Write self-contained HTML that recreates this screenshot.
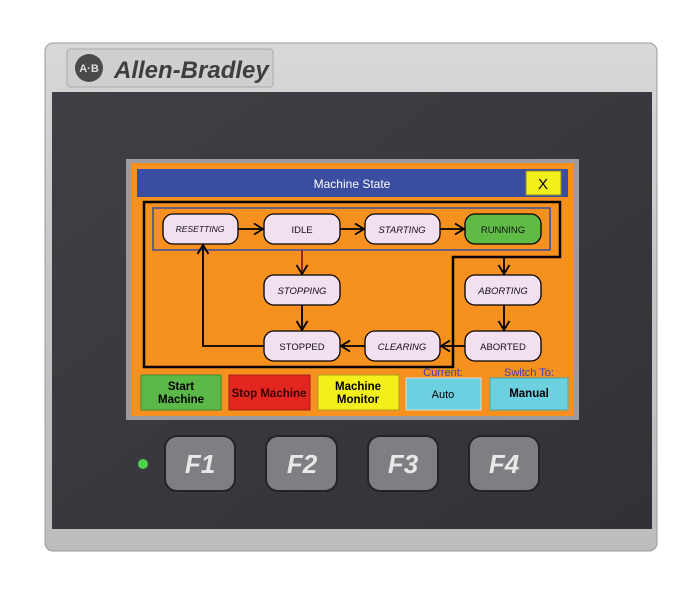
<!DOCTYPE html>
<html><head><meta charset="utf-8"><style>
html,body{margin:0;padding:0;background:#fff;width:700px;height:595px;overflow:hidden}
svg{display:block}
text{font-family:"Liberation Sans",sans-serif}
</style></head><body>
<svg width="700" height="595" viewBox="0 0 700 595" xmlns="http://www.w3.org/2000/svg">
<defs>
<linearGradient id="bz" x1="0" y1="0" x2="0" y2="1"><stop offset="0" stop-color="#d8d8d8"/><stop offset="0.5" stop-color="#c4c4c4"/><stop offset="1" stop-color="#bdbdbd"/></linearGradient>
<linearGradient id="dk" x1="0" y1="0" x2="1" y2="1"><stop offset="0" stop-color="#3e4045"/><stop offset="1" stop-color="#303237"/></linearGradient>
<marker id="ar" markerWidth="14" markerHeight="14" refX="11" refY="7" orient="auto" markerUnits="userSpaceOnUse"><path d="M2,1.5 L11,7 L2,12.5" fill="none" stroke="#000" stroke-width="1.8"/></marker>
</defs>
<rect x="45" y="43" width="612" height="508" rx="8" fill="url(#bz)" stroke="#9a9a9a"/>
<rect x="67" y="49" width="206" height="38" rx="3" fill="#cfcfcf" stroke="#aaa"/>
<circle cx="89" cy="68" r="14" fill="#4a4a4a"/>
<text x="89" y="72" font-size="11" font-weight="bold" fill="#ddd" text-anchor="middle">A·B</text>
<text x="114" y="78" font-size="24" font-weight="bold" font-style="italic" fill="#3e3e3e">Allen-Bradley</text>
<rect x="52" y="92" width="600" height="437" fill="url(#dk)"/>
<rect x="126" y="159" width="453" height="261" fill="#9a9c9f"/>
<rect x="131" y="163" width="443" height="253" fill="#f6901e"/>
<rect x="137" y="169" width="431" height="28" fill="#3a4da0"/>
<text x="352" y="188" font-size="12" fill="#fff" text-anchor="middle">Machine State</text>
<rect x="526" y="171" width="35" height="24" fill="#f3ef1a" stroke="#8c8a20"/>
<text x="543" y="189" font-size="15" fill="#000" text-anchor="middle">X</text>
<path d="M144,202 H560 V257 H453 V367 H144 Z" fill="none" stroke="#000" stroke-width="2.5"/>
<rect x="153" y="208" width="397" height="42" fill="none" stroke="#3a4da0" stroke-width="1.5"/>
<g stroke="#000" stroke-width="1.8" fill="none">
<line x1="238" y1="229" x2="263" y2="229" marker-end="url(#ar)"/>
<line x1="340" y1="229" x2="364" y2="229" marker-end="url(#ar)"/>
<line x1="440" y1="229" x2="464" y2="229" marker-end="url(#ar)"/>
<line x1="302" y1="250" x2="302" y2="274" stroke="#8a2010" marker-end="url(#ar)"/>
<line x1="302" y1="305" x2="302" y2="330" marker-end="url(#ar)"/>
<line x1="504" y1="257" x2="504" y2="274" marker-end="url(#ar)"/>
<line x1="504" y1="305" x2="504" y2="330" marker-end="url(#ar)"/>
<line x1="465" y1="346" x2="441" y2="346" marker-end="url(#ar)"/>
<line x1="365" y1="346" x2="341" y2="346" marker-end="url(#ar)"/>
<path d="M264,346 H203 V245" marker-end="url(#ar)"/>
</g>
<g stroke="#000" stroke-width="1.3" fill="#f2dff0">
<rect x="163" y="214" width="75" height="30" rx="10"/>
<rect x="264" y="214" width="76" height="30" rx="10"/>
<rect x="365" y="214" width="75" height="30" rx="10"/>
<rect x="465" y="214" width="76" height="30" rx="10" fill="#5fbb45"/>
<rect x="264" y="275" width="76" height="30" rx="10"/>
<rect x="465" y="275" width="76" height="30" rx="10"/>
<rect x="264" y="331" width="76" height="30" rx="10"/>
<rect x="365" y="331" width="75" height="30" rx="10"/>
<rect x="465" y="331" width="76" height="30" rx="10"/>
</g>
<g font-size="9.5" fill="#111" text-anchor="middle">
<text x="200" y="232" font-style="italic" font-size="8.5">RESETTING</text>
<text x="302" y="233">IDLE</text>
<text x="402" y="233" font-style="italic">STARTING</text>
<text x="503" y="233">RUNNING</text>
<text x="302" y="294" font-style="italic">STOPPING</text>
<text x="503" y="294" font-style="italic">ABORTING</text>
<text x="302" y="350">STOPPED</text>
<text x="402" y="350" font-style="italic">CLEARING</text>
<text x="503" y="350">ABORTED</text>
</g>
<rect x="141" y="375" width="80" height="35" fill="#5cb947" stroke="#3c8a30"/>
<text x="181" y="390" font-size="11.5" font-weight="bold" text-anchor="middle">Start</text>
<text x="181" y="403" font-size="11.5" font-weight="bold" text-anchor="middle">Machine</text>
<rect x="229" y="375" width="81" height="35" fill="#e3261f" stroke="#a0201a"/>
<text x="269" y="397" font-size="11.5" font-weight="bold" text-anchor="middle" fill="#3a0000">Stop Machine</text>
<rect x="318" y="375" width="81" height="35" fill="#f3ef1a" stroke="#a8a020"/>
<text x="358" y="390" font-size="11.5" font-weight="bold" text-anchor="middle">Machine</text>
<text x="358" y="403" font-size="11.5" font-weight="bold" text-anchor="middle">Monitor</text>
<text x="443" y="376" font-size="11" fill="#3a3fb0" text-anchor="middle">Current:</text>
<rect x="406" y="378" width="75" height="32" fill="#6dd0e0" stroke="#ddd"/>
<text x="443" y="398" font-size="11" text-anchor="middle">Auto</text>
<text x="529" y="376" font-size="11" fill="#3a3fb0" text-anchor="middle">Switch To:</text>
<rect x="490" y="378" width="78" height="32" fill="#6dd0e0" stroke="#4aa"/>
<text x="529" y="397" font-size="11.5" font-weight="bold" text-anchor="middle">Manual</text>
<circle cx="143" cy="464" r="5" fill="#4ed24a"/>
<g fill="#7d7f82" stroke="#232428" stroke-width="2">
<rect x="165" y="436" width="70" height="55" rx="12"/>
<rect x="266" y="436" width="71" height="55" rx="12"/>
<rect x="368" y="436" width="70" height="55" rx="12"/>
<rect x="469" y="436" width="70" height="55" rx="12"/>
</g>
<g font-size="26" font-weight="bold" font-style="italic" fill="#e8e8e8" text-anchor="middle">
<text x="200" y="473">F1</text><text x="302" y="473">F2</text><text x="403" y="473">F3</text><text x="504" y="473">F4</text>
</g>
</svg>
</body></html>
